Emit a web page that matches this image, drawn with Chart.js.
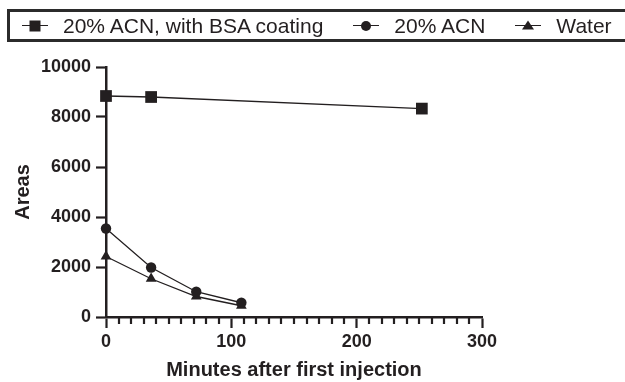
<!DOCTYPE html>
<html>
<head>
<meta charset="utf-8">
<script src="https://cdn.jsdelivr.net/npm/chart.js@4/dist/chart.umd.min.js"></script>
<style>
  html, body { margin: 0; padding: 0; background: #fff; }
  #wrap { position: relative; width: 625px; height: 382px; overflow: hidden; }
  #chart { position: absolute; left: 0; top: 0; }
  #legend {
    position: absolute; left: 7px; top: 9px; width: 660px; height: 27px;
    border: 3px solid #2b2b2b; display: flex; align-items: center;
    font-family: "Liberation Sans", Arial, sans-serif; font-size: 21px; color: #231f20;
    box-sizing: content-box; padding-left: 12px;
  }
  .item { display: flex; align-items: center; margin-right: 30px; }
  .mk { position: relative; width: 26px; height: 14px; margin-right: 15px; }
  .mk::before { content: ""; position: absolute; left: 0; right: 0; top: 6px; height: 1.6px; background: #231f20; }
  .mk i { position: absolute; left: 50%; top: 50%; transform: translate(-50%, -50%); background: #231f20; }
  .mk.rect i { width: 11px; height: 11px; }
  .mk.circle i { width: 10px; height: 10px; border-radius: 50%; }
  .mk.triangle i { width: 0; height: 0; background: none; border-left: 6px solid transparent; border-right: 6px solid transparent; border-bottom: 9px solid #231f20; margin-top: -1px; }
</style>
</head>
<body>
<div id="wrap">
  <canvas id="chart" width="625" height="382"></canvas>
  <div id="legend"></div>
</div>
<script>
// Sampling times (minutes after first injection) and measured peak areas
const bsaTimes = [0, 36, 252];
const bsaAreas = [8840, 8800, 8336];
const acnTimes = [0, 36, 72, 108];
const acnAreas = [3540, 1980, 1010, 570];
const waterTimes = [0, 36, 72, 108];
const waterAreas = [2420, 1530, 820, 450];

const seriesNames = ['20% ACN, with BSA coating', '20% ACN', 'Water'];
const seriesStyles = ['rect', 'circle', 'triangle'];
const xTicks = [0, 100, 200, 300];
const xMinorStep = 10;
const yTicks = [0, 2000, 4000, 6000, 8000, 10000];

const INK = '#231f20';
const FONT = '"Liberation Sans", Arial, sans-serif';

function toPoints(xs, ys) {
  return xs.map((x, i) => ({ x: x, y: ys[i] }));
}

const markerRadius = { rect: 8.3, circle: 5.2, triangle: 6.2 };

const datasets = [
  toPoints(bsaTimes, bsaAreas),
  toPoints(acnTimes, acnAreas),
  toPoints(waterTimes, waterAreas)
].map((pts, i) => ({
  label: seriesNames[i],
  data: pts,
  showLine: true,
  borderColor: INK,
  borderWidth: 1.3,
  backgroundColor: INK,
  pointStyle: seriesStyles[i],
  pointRadius: markerRadius[seriesStyles[i]],
  pointBorderWidth: 0,
  pointBackgroundColor: INK,
  tension: 0,
  clip: false
}));

// Short minor tick marks along the x axis between the labelled ticks
const minorTicks = {
  id: 'minorTicks',
  afterDraw(chart) {
    const sx = chart.scales.x;
    const ctx = chart.ctx;
    const y0 = chart.chartArea.bottom;
    ctx.save();
    ctx.strokeStyle = INK;
    ctx.lineWidth = 2.2;
    ctx.beginPath();
    for (let v = sx.min; v <= sx.max; v += xMinorStep) {
      if (xTicks.includes(v)) continue;
      const px = Math.round(sx.getPixelForValue(v));
      ctx.moveTo(px, y0);
      ctx.lineTo(px, y0 + 7);
    }
    ctx.stroke();
    ctx.restore();
  }
};

const chart = new Chart(document.getElementById('chart'), {
  type: 'scatter',
  data: { datasets: datasets },
  plugins: [minorTicks],
  options: {
    responsive: false,
    animation: false,
    devicePixelRatio: 1,
    layout: { padding: { top: 67, right: 143, bottom: 0, left: 0 } },
    plugins: { legend: { display: false }, tooltip: { enabled: false } },
    scales: {
      x: {
        type: 'linear',
        min: 0, max: 300,
        afterFit: (s) => { s.height = 65; },
        afterBuildTicks: (s) => { s.ticks = xTicks.map(v => ({ value: v })); },
        border: { display: true, color: INK, width: 2.5 },
        grid: {
          drawOnChartArea: false,
          tickLength: 11,
          tickWidth: 2.2,
          tickColor: INK
        },
        ticks: {
          autoSkip: false,
          maxRotation: 0,
          padding: 3,
          color: INK,
          font: { family: FONT, size: 18, weight: 'bold' },
          callback: (v) => String(v)
        },
        title: {
          display: true,
          text: 'Minutes after first injection',
          color: INK,
          font: { family: FONT, size: 20, weight: 'bold' },
          padding: { top: 0, bottom: 0 }
        }
      },
      y: {
        type: 'linear',
        min: 0, max: 10000,
        afterFit: (s) => { s.width = 106; },
        afterBuildTicks: (s) => { s.ticks = yTicks.map(v => ({ value: v })); },
        border: { display: true, color: INK, width: 2.5 },
        grid: {
          drawOnChartArea: false,
          tickLength: 10,
          tickWidth: 2.2,
          tickColor: INK
        },
        ticks: {
          padding: 5,
          color: INK,
          font: { family: FONT, size: 18, weight: 'bold' },
          callback: (v) => String(v)
        },
        title: {
          display: true,
          text: 'Areas',
          color: INK,
          font: { family: FONT, size: 20, weight: 'bold' },
          padding: { top: 11, bottom: 0 }
        }
      }
    }
  }
});

// Boxed legend row built from the chart's datasets
const legend = document.getElementById('legend');
chart.data.datasets.forEach((ds) => {
  const item = document.createElement('div');
  item.className = 'item';
  const mk = document.createElement('span');
  mk.className = 'mk ' + ds.pointStyle;
  mk.appendChild(document.createElement('i'));
  const txt = document.createElement('span');
  txt.textContent = ds.label;
  item.appendChild(mk);
  item.appendChild(txt);
  legend.appendChild(item);
});
</script>
</body>
</html>
